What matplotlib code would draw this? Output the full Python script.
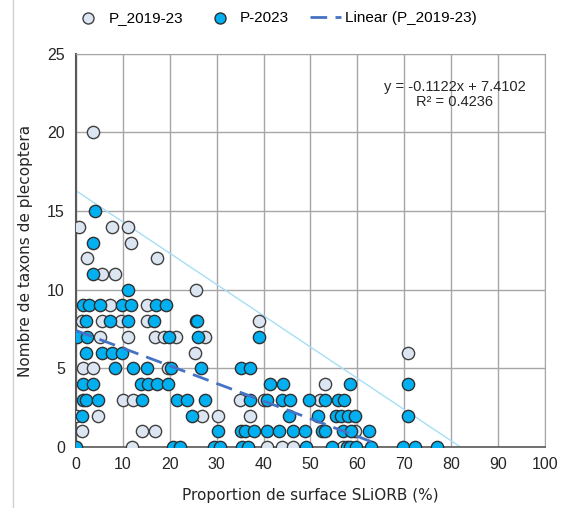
import matplotlib.pyplot as plt
from matplotlib.lines import Line2D
import numpy as np

# P_2019-23 (light points)
p1_x = [3.7, 0.6, 7.7, 11.2, 11.7, 2.3, 17.2, 5.6, 8.3, 25.7,
        7.2, 15.1,
        1.2, 5.5, 9.7, 15.1, 39.1,
        5.1, 11.2, 16.8, 18.7, 21.3, 27.5,
        25.4, 70.9,
        1.5, 3.7, 19.7,
        53.1,
        10.1, 12.1, 35.0, 40.0, 52.1,
        0.0, 4.7, 26.8, 30.3, 37.1,
        1.2, 14.0, 16.8, 59.6,
        11.9, 40.7, 43.9, 46.3, 57.0]
p1_y = [20, 14, 14, 14, 13, 12, 12, 11, 11, 10,
        9, 9,
        8, 8, 8, 8, 8,
        7, 7, 7, 7, 7, 7,
        6, 6,
        5, 5, 5,
        4,
        3, 3, 3, 3, 3,
        2, 2, 2, 2, 2,
        1, 1, 1, 1,
        0, 0, 0, 0, 0]

# P-2023 (blue points)
p2_x = [4.0, 3.7, 3.7, 11.2,
        1.4, 2.7, 5.2, 9.8, 11.8, 17.1, 19.2,
        2.1, 7.3, 11.2, 16.6, 25.5, 25.8,
        0.3, 2.3, 19.9, 26.1, 39.1,
        2.1, 5.6, 7.7, 9.8,
        8.3, 12.2, 15.2, 20.3, 26.7, 35.1, 37.1,
        1.4, 3.7, 13.8, 15.4, 17.2, 19.7, 41.4, 44.2, 58.5, 70.9,
        1.4, 2.2, 4.7, 14.1, 21.5, 23.6, 27.5, 37.1, 40.7, 43.9, 45.6, 49.6, 53.1, 55.9, 57.2,
        1.2, 24.7, 45.5, 51.7, 55.4, 56.6, 58.1, 59.6, 70.9,
        30.3, 35.1, 36.0, 38.0, 40.7, 43.4, 46.3, 48.8, 52.4, 53.1, 57.0, 58.6, 62.5,
        0.0, 20.6, 22.2, 29.5, 30.7, 35.3, 36.7, 49.0, 54.6, 57.7, 58.4, 59.8, 62.9, 69.8, 72.3, 76.9]
p2_y = [15, 13, 11, 10,
        9, 9, 9, 9, 9, 9, 9,
        8, 8, 8, 8, 8, 8,
        7, 7, 7, 7, 7,
        6, 6, 6, 6,
        5, 5, 5, 5, 5, 5, 5,
        4, 4, 4, 4, 4, 4, 4, 4, 4, 4,
        3, 3, 3, 3, 3, 3, 3, 3, 3, 3, 3, 3, 3, 3, 3,
        2, 2, 2, 2, 2, 2, 2, 2, 2,
        1, 1, 1, 1, 1, 1, 1, 1, 1, 1, 1, 1, 1,
        0, 0, 0, 0, 0, 0, 0, 0, 0, 0, 0, 0, 0, 0, 0, 0]

# linear trend (P_2019-23) and upper boundary line
slope, intercept = -0.1122, 7.4102
trend_x = [0, 63]
bound_x = [0, 82]
bound_y = [16.3, 0]

x_ticks = [0, 10, 20, 30, 40, 50, 60, 70, 80, 90, 100]
y_ticks = [0, 5, 10, 15, 20, 25]

narrow = ['Liberation Sans Narrow', 'Liberation Sans', 'DejaVu Sans']

fig = plt.figure(figsize=(5.67, 5.08), dpi=100)
ax = fig.add_axes([0.134, 0.120, 0.827, 0.774])

ax.plot(bound_x, bound_y, color='#a6def5', linewidth=1, zorder=2)

ax.scatter(p1_x, p1_y, s=78, color='#dce6f2', edgecolors='#404040',
           linewidths=1.0, zorder=3, label='P_2019-23')
ax.scatter(p2_x, p2_y, s=78, color='#00b0f0', edgecolors='#303030',
           linewidths=1.0, zorder=4, label='P-2023')

tx = np.array(trend_x)
ax.plot(tx, slope * tx + intercept, color='#4472c4', linewidth=2,
        linestyle=(0, (6, 3)), zorder=5, label='Linear (P_2019-23)')

ax.set_xlim(0, 100)
ax.set_ylim(0, 25)
ax.set_xticks(x_ticks)
ax.set_yticks(y_ticks)
ax.grid(True, color='#a6a6a6', linewidth=1)
ax.set_axisbelow(True)
ax.tick_params(length=0)
ax.tick_params(axis='y', pad=8)
ax.tick_params(axis='x', pad=7)
for lab in ax.get_xticklabels() + ax.get_yticklabels():
    lab.set_family(narrow)
    lab.set_fontsize(11.5)
    lab.set_color('#262626')
for side in ['top', 'right']:
    ax.spines[side].set_color('#a6a6a6')
ax.spines['left'].set_color('#595959')
ax.spines['left'].set_linewidth(1.5)
ax.spines['bottom'].set_color('#595959')
ax.spines['bottom'].set_linewidth(1.2)

ax.set_xlabel('Proportion de surface SLiORB (%)', fontsize=11, color='#262626', labelpad=12)
ax.set_ylabel('Nombre de taxons de plecoptera', fontsize=11, color='#262626', labelpad=10)

ax.text(80.8, 22.4, 'y = -0.1122x + 7.4102\nR² = 0.4236', ha='center', va='center',
        fontsize=10.5, family=narrow, color='#262626', linespacing=1.1)

fig.legend(loc='upper center', bbox_to_anchor=(0.485, 1.005), ncol=3, frameon=False,
           prop={'family': narrow, 'size': 11}, handlelength=2.0, columnspacing=1.4,
           handletextpad=0.3, scatterpoints=1, markerscale=0.9)

fig.add_artist(Line2D([0.023, 0.023], [0, 1], color='#d0d0d0', linewidth=1))

fig.savefig('out.png', dpi=100)
